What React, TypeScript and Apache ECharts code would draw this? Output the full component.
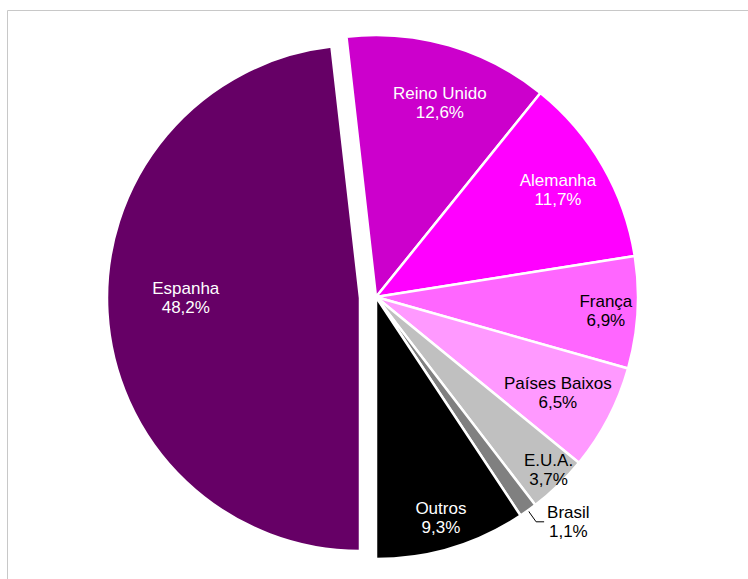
import React, { useEffect, useRef } from 'react';
import * as echarts from 'echarts';

const categories = ['Espanha', 'Reino Unido', 'Alemanha', 'França', 'Países Baixos', 'E.U.A.', 'Brasil', 'Outros'];
const shares = [48.2, 12.6, 11.7, 6.9, 6.5, 3.7, 1.1, 9.3];
const colors = ['#660066', '#CC00CC', '#FF00FF', '#FF66FF', '#FF99FF', '#C0C0C0', '#808080', '#000000'];
const labelColors = ['#ffffff', '#ffffff', '#ffffff', '#000000', '#000000', '#000000', '#000000', '#ffffff'];
// radial position of each inside label, as a fraction of the radius (0 = outside label with leader line)
const labelRadius = [0.67, 0.78, 0.8, 0.875, 0.78, 0.935, 0, 0.875];
// small pixel nudges applied to the labels after layout
const labelNudgeX = [-2, 6, -2, -2, -2, 0, 1, -2];
const labelNudgeY = [-10, 5, -1, 0, 0, -5, 0, -1];
const explodedIndex = 0;

const CENTER = [376, 297];
const R = 262;
const EXPLODED_CENTER = [360, 298];
const R_EXPLODED = 253;

const FONT = '"Liberation Sans", Arial, sans-serif';
const CLEAR = 'rgba(0,0,0,0)';

const fmt = (v: number) => v.toFixed(1).replace('.', ',') + '%';

function buildOption() {
  const base = {
    type: 'pie',
    startAngle: 270,
    clockwise: true,
    silent: true,
    animation: false,
    avoidLabelOverlap: false,
    emphasis: { disabled: true },
    labelLine: { show: false },
    label: { show: false },
  };

  const series: any[] = [];

  // main pie (non-exploded slices)
  series.push({
    ...base,
    center: CENTER,
    radius: R,
    itemStyle: { borderColor: '#ffffff', borderWidth: 2.5 },
    data: categories.map((c, i) => ({
      name: c,
      value: shares[i],
      itemStyle: i === explodedIndex ? { color: CLEAR, borderWidth: 0 } : { color: colors[i] },
    })),
  });

  // exploded slice
  series.push({
    ...base,
    center: EXPLODED_CENTER,
    radius: R_EXPLODED,
    data: categories.map((c, i) => ({
      name: c,
      value: shares[i],
      itemStyle: i === explodedIndex
        ? { color: colors[i], borderColor: '#ffffff', borderWidth: 2.5 }
        : { color: CLEAR, borderWidth: 0 },
    })),
  });

  // label rings
  categories.forEach((cat, i) => {
    const isExploded = i === explodedIndex;
    const rr = isExploded ? R_EXPLODED : R;
    const k = labelRadius[i];
    const outside = k === 0;
    series.push({
      ...base,
      center: isExploded ? EXPLODED_CENTER : CENTER,
      radius: outside ? R : [k * rr - 1, k * rr + 1],
      itemStyle: { color: CLEAR, borderWidth: 0 },
      labelLayout: () => ({ dx: labelNudgeX[i], dy: labelNudgeY[i] }),
      data: categories.map((c, j) => {
        if (j !== i) return { name: c, value: shares[j], label: { show: false }, labelLine: { show: false } };
        if (outside) {
          return {
            name: c,
            value: shares[j],
            label: {
              show: true,
              position: 'outside',
              distanceToLabelLine: 2,
              formatter: `{c|${c}}\n{c|${fmt(shares[j])}}`,
              rich: {
                c: { align: 'center', fontSize: 17, lineHeight: 19, color: labelColors[j], fontFamily: FONT },
              },
            },
            labelLine: { show: true, length: 14, length2: 8, lineStyle: { color: '#000000', width: 1 } },
          };
        }
        return {
          name: c,
          value: shares[j],
          label: {
            show: true,
            position: 'inside',
            rotate: 0,
            formatter: `${c}\n${fmt(shares[j])}`,
            color: labelColors[j],
            fontSize: 17,
            lineHeight: 19,
            fontFamily: FONT,
          },
        };
      }),
    });
  });

  return {
    animation: false,
    backgroundColor: '#ffffff',
    graphic: [
      {
        type: 'rect',
        silent: true,
        shape: { x: 7.5, y: 10.5, width: 1000, height: 1000 },
        style: { fill: 'none', stroke: '#c8c8c8', lineWidth: 1 },
      },
    ],
    series,
  };
}

export default function App() {
  const ref = useRef<HTMLDivElement>(null);
  useEffect(() => {
    if (!ref.current) return;
    const chart = echarts.init(ref.current, undefined, { renderer: 'svg' });
    chart.setOption(buildOption() as any);
    return () => chart.dispose();
  }, []);
  return (
    <div
      ref={ref}
      style={{ position: 'absolute', left: 0, top: 0, width: 748, height: 579 }}
    />
  );
}
